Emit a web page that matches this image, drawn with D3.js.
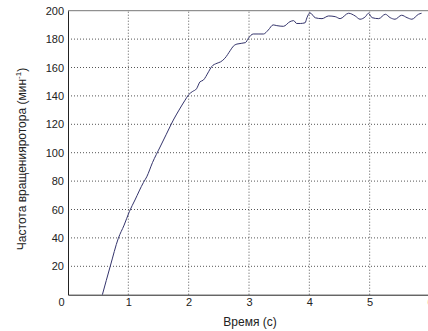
<!DOCTYPE html>
<html>
<meta charset="utf-8">
<style>
  body { margin: 0; background: #fff; }
  text { font-family: "Liberation Sans", Arial, sans-serif; fill: #222; }
</style>
<div id="chart"></div>
<script src="https://cdn.jsdelivr.net/npm/d3@7"></script>
<script>
  // time (s) and rotor speed (1/min)
  var time = [0.57, 0.70, 0.834, 0.93, 1.017, 1.11, 1.25, 1.305, 1.40, 1.526, 1.63, 1.746, 1.84, 1.94, 1.995,
              2.06, 2.13, 2.19, 2.24, 2.33, 2.38, 2.47, 2.53, 2.60, 2.69, 2.74, 2.80, 2.94, 2.99,
              3.07, 3.15, 3.24, 3.32, 3.40, 3.46, 3.57, 3.68, 3.74, 3.79, 3.85, 3.93, 3.96, 4.01,
              4.10, 4.21, 4.32, 4.43, 4.51, 4.65, 4.76, 4.84, 4.93, 4.98, 5.04, 5.15, 5.26, 5.34,
              5.42, 5.53, 5.62, 5.70, 5.81, 5.86];
  var speed = [0, 20, 39.7, 49, 58.5, 66.7, 79, 83, 93, 104, 113, 123, 130, 137, 140.6,
               143, 145, 150, 151, 157, 160.6, 163, 164, 166.5, 172, 175, 176.5, 177.5, 180.6,
               183.6, 183.6, 183.6, 186.4, 190, 189.5, 189, 192.3, 193, 191, 191, 191.5, 195, 198.5,
               195, 194.4, 196.3, 195.8, 194.4, 198.2, 196.3, 194, 195.8, 198.2, 195.1, 194.4, 197.5, 195.1,
               194, 196.8, 195.1, 194, 197.5, 198.2];
  var xTicks = [0, 1, 2, 3, 4, 5, 6];
  var yTicks = [20, 40, 60, 80, 100, 120, 140, 160, 180, 200];

  var W = 428, H = 331;
  var m = { left: 68, top: 10.7, plotW: 362, plotH: 284 };

  var svg = d3.select("#chart").append("svg").attr("width", W).attr("height", H);

  var x = d3.scaleLinear().domain([0, 6]).range([m.left, m.left + m.plotW]);
  var y = d3.scaleLinear().domain([0, 200]).range([m.top + m.plotH, m.top]);

  // dotted grid
  svg.append("g").selectAll("line").data(xTicks.slice(1)).enter().append("line")
    .attr("x1", function (d) { return x(d); }).attr("x2", function (d) { return x(d); })
    .attr("y1", y(0)).attr("y2", y(200))
    .attr("stroke", "#555").attr("stroke-width", 1).attr("stroke-dasharray", "1,2");
  svg.append("g").selectAll("line").data(yTicks.slice(0, -1)).enter().append("line")
    .attr("x1", x(0)).attr("x2", x(6))
    .attr("y1", function (d) { return y(d); }).attr("y2", function (d) { return y(d); })
    .attr("stroke", "#555").attr("stroke-width", 1).attr("stroke-dasharray", "1,2");

  // frame
  svg.append("line").attr("x1", x(0)).attr("x2", x(6)).attr("y1", y(200)).attr("y2", y(200))
    .attr("stroke", "#777").attr("stroke-width", 1);

  // axes
  var xAxis = svg.append("g").attr("transform", "translate(0," + y(0) + ")")
    .call(d3.axisBottom(x).tickValues(xTicks).tickSize(0).tickPadding(4).tickFormat(d3.format("d")));
  xAxis.select(".domain").attr("stroke", "#222");
  xAxis.selectAll("text").style("font-size", "11px").attr("fill", "#333")
    .attr("dx", function (d) { return d === 0 ? -7 : 0; });

  var yAxis = svg.append("g").attr("transform", "translate(" + x(0) + ",0)")
    .call(d3.axisLeft(y).tickValues(yTicks).tickSize(0).tickPadding(4));
  yAxis.select(".domain").attr("stroke", "#222");
  yAxis.selectAll("text").style("font-size", "11px").attr("fill", "#333");

  // curve
  var pts = time.map(function (t, i) { return [t, speed[i]]; });
  svg.append("path").datum(pts)
    .attr("fill", "none").attr("stroke", "#34346c").attr("stroke-width", 1)
    .attr("d", d3.line().curve(d3.curveMonotoneX)
      .x(function (d) { return x(d[0]); }).y(function (d) { return y(d[1]); }));

  // titles
  svg.append("text").attr("x", 250).attr("y", 326).attr("text-anchor", "middle")
    .style("font-size", "12px").text("Время (с)");

  var yt = svg.append("text").attr("transform", "translate(26,159) rotate(-90)")
    .attr("text-anchor", "middle").style("font-size", "12px");
  yt.append("tspan").text("Частота вращенияротора (мин");
  yt.append("tspan").attr("dy", -5).style("font-size", "8px").text("-1");
  yt.append("tspan").attr("dy", 5).text(")");
</script>
</html>
